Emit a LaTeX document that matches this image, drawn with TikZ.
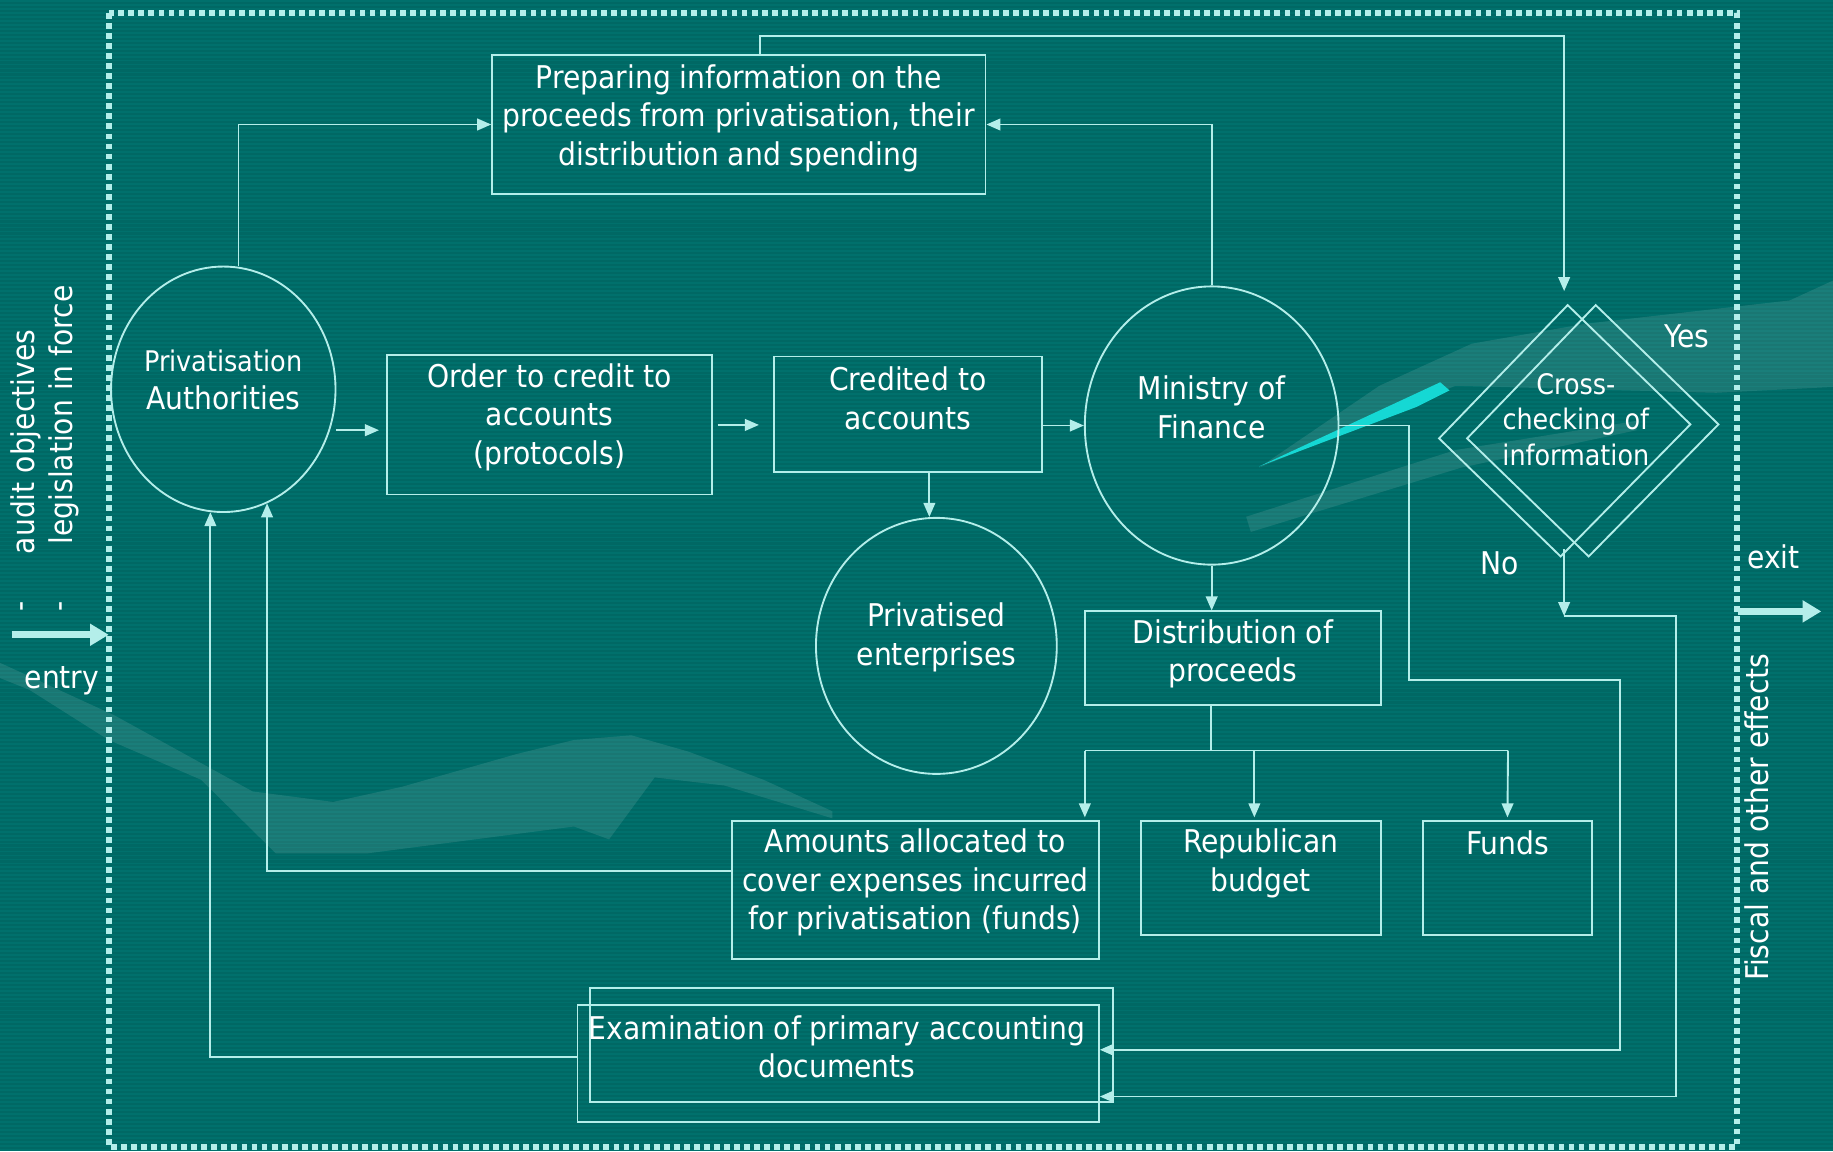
\documentclass[tikz,border=0pt]{standalone}
\usepackage{fontspec}
\setmainfont{DejaVu Sans Condensed}
\usetikzlibrary{arrows.meta,shapes.geometric,calc}
\definecolor{bgc}{RGB}{0,104,100}
\definecolor{strp}{RGB}{0,112,108}
\definecolor{ln}{RGB}{180,238,234}
\definecolor{streak}{RGB}{21,216,212}
\begin{document}
\begin{tikzpicture}[x=1pt,y=-1pt,
  box/.style={draw=ln,line width=1.6pt,rectangle,inner sep=0pt},
  oval/.style={draw=ln,line width=1.6pt,ellipse,inner sep=0pt},
  txt/.style={text=white,align=center,font=\fontsize{26.8}{33}\selectfont,inner sep=0pt},
  small/.style={txt,font=\fontsize{24.2}{30}\selectfont},
  con/.style={draw=ln,line width=1.6pt},
  arr/.style={con,-{Triangle[length=12pt,width=10pt]}},
  big/.style={draw=ln,line width=6pt,-{Triangle[length=16pt,width=18pt]}},
  border/.style={draw=ln,line width=5pt,dash pattern=on 5pt off 3.6pt},
  swoosh/.style={fill=white,fill opacity=0.10}
]
\useasboundingbox (0,0) rectangle (1568,985);
% background
\fill[bgc] (0,0) rectangle (1568,985);
\foreach \i in {0,...,289} {\fill[strp] (0,\i*3.4) rectangle (1568,\i*3.4+1.6);}
% background swooshes
\fill[swoosh] (0,567) -- (98,612) -- (216,677) -- (285,686) -- (344,673) -- (442,645) -- (491,633) -- (540,629) -- (589,643) -- (653,667) -- (712,694)
  -- (712,700) -- (620,672) -- (560,665) -- (521,718) -- (491,707) -- (314,730) -- (236,730) -- (172,667) -- (93,633) -- (25,590) -- (0,580) -- cycle;
\fill[swoosh] (1077,400) -- (1180,330) -- (1259,294) -- (1356,277) -- (1531,257) -- (1568,240) -- (1568,331) -- (1468,336) -- (1245,330) -- (1150,370) -- cycle;
\fill[swoosh] (1066,442) -- (1245,385) -- (1400,360) -- (1400,368) -- (1250,400) -- (1070,455) -- cycle;
\fill[streak] (1077,399) -- (1232,327) -- (1240,334) -- (1212,348) -- cycle;
% dotted frame
\draw[border] (93,11) rectangle (1486,981);
% nodes
\node[box,minimum width=422pt,minimum height=119pt] (prep) at (632,106.5) {};
\node[oval,minimum width=192pt,minimum height=210pt] (pa) at (191,333) {};
\node[box,minimum width=278pt,minimum height=119pt] (ord) at (470,363.5) {};
\node[box,minimum width=229pt,minimum height=99pt] (cred) at (776.5,354.5) {};
\node[oval,minimum width=217pt,minimum height=238pt] (mf) at (1036.5,364) {};
\node[oval,minimum width=206pt,minimum height=219pt] (pe) at (801,552.5) {};
\node[box,minimum width=253pt,minimum height=80pt] (dist) at (1054.5,563) {};
\node[box,minimum width=314pt,minimum height=118pt] (amt) at (783,761) {};
\node[box,minimum width=205pt,minimum height=98pt] (rep) at (1078.5,751) {};
\node[box,minimum width=145pt,minimum height=98pt] (fund) at (1289.5,751) {};
\node[box,minimum width=446pt,minimum height=100pt] (exam) at (717,910) {};
\node[box,minimum width=447pt,minimum height=98pt] (examb) at (728.5,894) {};
% diamond
\draw[con] (1341,261) -- (1446,363) -- (1335,476) -- (1231,375) -- cycle;
\draw[con] (1365,261) -- (1470,363) -- (1359,476) -- (1255,375) -- cycle;
\coordinate (dtopin) at (1338,249);
\coordinate (dbot) at (1338,470);
% texts
\node[txt] (tprep) at (632,101) {Preparing information on the\\proceeds from privatisation, their\\distribution and spending};
\node[txt] (tpa) at (191,325) {{\fontsize{24.3}{32}\selectfont Privatisation}\\Authorities};
\node[txt] (tord) at (470,357) {Order to credit to\\accounts\\(protocols)};
\node[txt] (tcred) at (776.5,340.5) {Credited to\\accounts};
\node[txt] (tmf) at (1036.5,348.5) {Ministry of\\Finance};
\node[txt] (tpe) at (801,545) {Privatised\\enterprises};
\node[txt] (tdist) at (1054.5,559.5) {Distribution of\\proceeds};
\node[txt] (tamt) at (783,755) {Amounts allocated to\\cover expenses incurred\\for privatisation (funds)};
\node[txt] (trep) at (1078.5,738.5) {Republican\\budget};
\node[txt] (tfund) at (1289.5,721) {Funds};
\node[txt] (texam) at (716,895.5) {Examination of primary accounting\\documents};
\node[small] (tcc) at (1348,359) {Cross-\\checking of\\information};
\node[txt] (yes) at (1443,288) {Yes};
\node[txt] (no) at (1283,482) {No};
\node[txt] (exit) at (1517,476) {exit};
\node[txt] (entry) at (53,582) {entry};
\node[txt,rotate=90] (aud) at (22,378) {audit objectives};
\node[txt,rotate=90] (audd) at (22,519) {-};
\node[txt,rotate=90] (leg) at (55,355) {legislation in force};
\node[txt,rotate=90] (legd) at (55,519) {-};
\node[txt,rotate=90] (fisc) at (1503,699) {Fiscal and other effects};
% entry / exit
\coordinate (enS) at (10,543);
\coordinate (enE) at (93,543);
\coordinate (exS) at (1487,523);
\coordinate (exE) at (1558,523);
\draw[big] (enS) -- (enE);
\draw[big] (exS) -- (exE);
% connectors
\draw[arr] (204,0 |- pa.north) |- (prep.west);
\draw[arr] (mf.north) |- (prep.east);
\draw[arr] (650,0 |- prep.north) -- (650,31) -| (dtopin);
\draw[arr] (pa.east |- 0,368) -- ([xshift=-6pt]ord.west |- 0,368);
\draw[arr] ([xshift=4pt]ord.east) -- ([xshift=-12pt]cred.west |- ord.east);
\draw[arr] (cred.east |- mf.west) -- (mf.west);
\draw[arr] (795,0 |- cred.south) -- (795,0 |- pe.north);
\draw[arr] (mf.south) -- (mf.south |- dist.north);
\coordinate (split) at (1036,642);
\draw[con] (1036,0 |- dist.south) -- (split);
\draw[con] (928,642) -- (1290,642);
\draw[arr] (928,642) -- ([yshift=2pt]928,0 |- amt.north);
\draw[arr] (1073,642) -- ([yshift=2pt]1073,0 |- rep.north);
\draw[arr] (1290,642) -- ([yshift=2pt]fund.north);
\draw[arr] ([yshift=16pt]amt.west) -| (pa.-69);
\draw[arr] ([yshift=6pt]exam.west) -| (pa.-96);
\draw[arr] (mf.east) -| (1205,582) -| (1386,898) -- (exam.east |- 0,898);
\draw[arr] (dbot) -- (1338,527);
\draw[arr] (1338,527) -| (1434,938) -- (exam.east |- 0,938);
\end{tikzpicture}
\end{document}
